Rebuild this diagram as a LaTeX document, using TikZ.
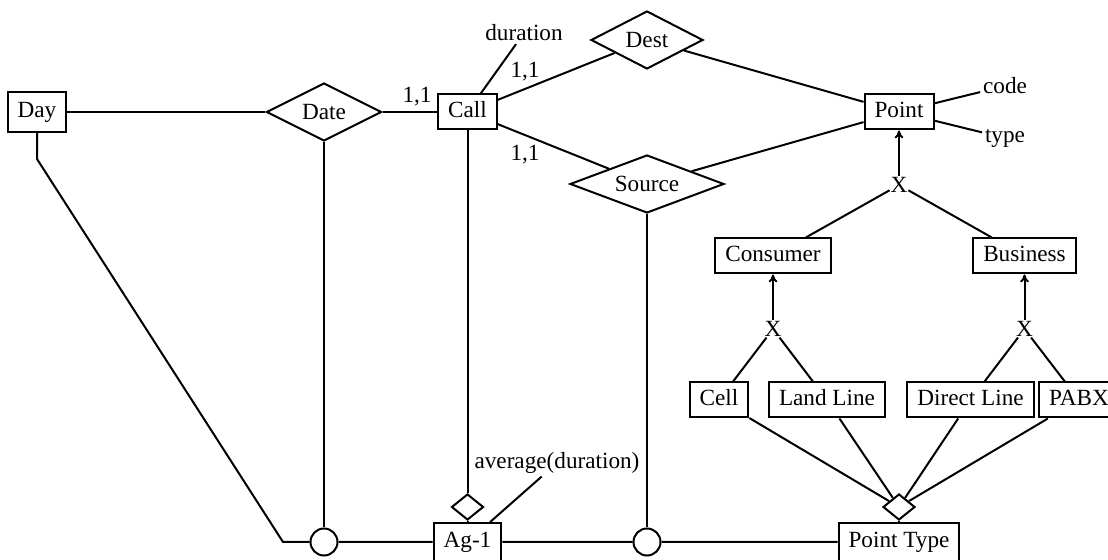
\documentclass[tikz,border=0pt]{standalone}
\usepackage{fontspec}
\setmainfont{Liberation Serif}
\usetikzlibrary{arrows.meta,shapes.geometric}

\begin{document}
\begin{tikzpicture}[x=0.5pt,y=-0.5pt,line width=1pt,
            font=\fontsize{11.6}{14}\selectfont,
            entity/.style={draw,rectangle,inner xsep=5pt,inner ysep=0pt,minimum height=17.5pt,text height=8pt,text depth=2.5pt},
            relship/.style={draw,diamond,aspect=2.5,inner sep=0pt,minimum width=#1,minimum height=29pt},
            attr/.style={inner sep=1pt},
            isa/.style={inner sep=0pt},
            agg/.style={draw,diamond,inner sep=0pt,minimum width=16pt,minimum height=13pt},
            hub/.style={draw,circle,inner sep=0pt,minimum size=13.5pt},
            isa arrow/.style={-{To[length=4pt,width=4.5pt]}}
            ]
            \clip (0,0) rectangle (1108,560);
            % call schema
            \node[entity,minimum height=20pt] (day) at (37,112) {Day};
            \node[relship=57.5pt] (date) at (324,112) {Date};
            \node[entity] (call) at (467.5,112) {Call};
            \node[attr] (duration) at (524,33) {duration};
            \node[relship=56pt] (dest) at (647,40) {Dest};
            \node[relship=77pt] (source) at (647,184) {Source};
            \node[entity] (point) at (899,112) {Point};
            \node[attr] (code) at (1005,86) {code};
            \node[attr] (type) at (1005,138) {type};
            \node (c1) at (417,97) {1,1};
            \node (c2) at (525,72) {1,1};
            \node (c3) at (525,155) {1,1};
            % specialisation of points
            \node[isa] (x1) at (899,185) {X};
            \node[entity] (consumer) at (773,256) {Consumer};
            \node[entity] (business) at (1024.5,256) {Business};
            \node[isa] (x2) at (773,329) {X};
            \node[isa] (x3) at (1024.5,329) {X};
            \node[entity] (cell) at (719,400) {Cell};
            \node[entity] (land) at (827,400) {Land Line};
            \node[entity] (direct) at (970.5,400) {Direct Line};
            \node[entity] (pabx) at (1079,400) {PABX};
            % aggregate
            \node[agg] (ptd) at (899,507) {};
            \node[entity,minimum height=19pt] (ptype) at (899,542) {Point Type};
            \node[hub] (h1) at (324,542) {};
            \node[entity,minimum height=19pt] (ag) at (467.5,542) {Ag-1};
            \node[hub] (h2) at (647,542) {};
            \node[agg] (agd) at (467.5,507) {};
            \node[attr] (avg) at (557,463) {average(duration)};
            \coordinate (bend1) at (37,159);
            \coordinate (bend2) at (283,542);

            \draw (day) -- (date) -- (call);
            \draw (call) -- (duration);
            \draw (call) -- (dest) -- (point) -- (source) -- (call);
            \draw (point) -- (code);
            \draw (point) -- (type);
            \draw[isa arrow] (x1) -- (point);
            \draw (x1) -- (consumer);
            \draw (x1) -- (business);
            \draw[isa arrow] (x2) -- (consumer);
            \draw[isa arrow] (x3) -- (business);
            \draw (x2) -- (cell);
            \draw (x2) -- (land);
            \draw (x3) -- (direct);
            \draw (x3) -- (pabx);
            \draw (cell) -- (ptd);
            \draw (land) -- (ptd);
            \draw (direct) -- (ptd);
            \draw (pabx) -- (ptd);
            \draw (ptd) -- (ptype);
            \draw (day) -- (bend1) -- (bend2) -- (h1) -- (ag) -- (h2) -- (ptype);
            \draw (date) -- (h1);
            \draw (call) -- (agd) -- (ag);
            \draw (ag) -- (avg);
            \draw (source) -- (h2);
        \end{tikzpicture}
\end{document}
